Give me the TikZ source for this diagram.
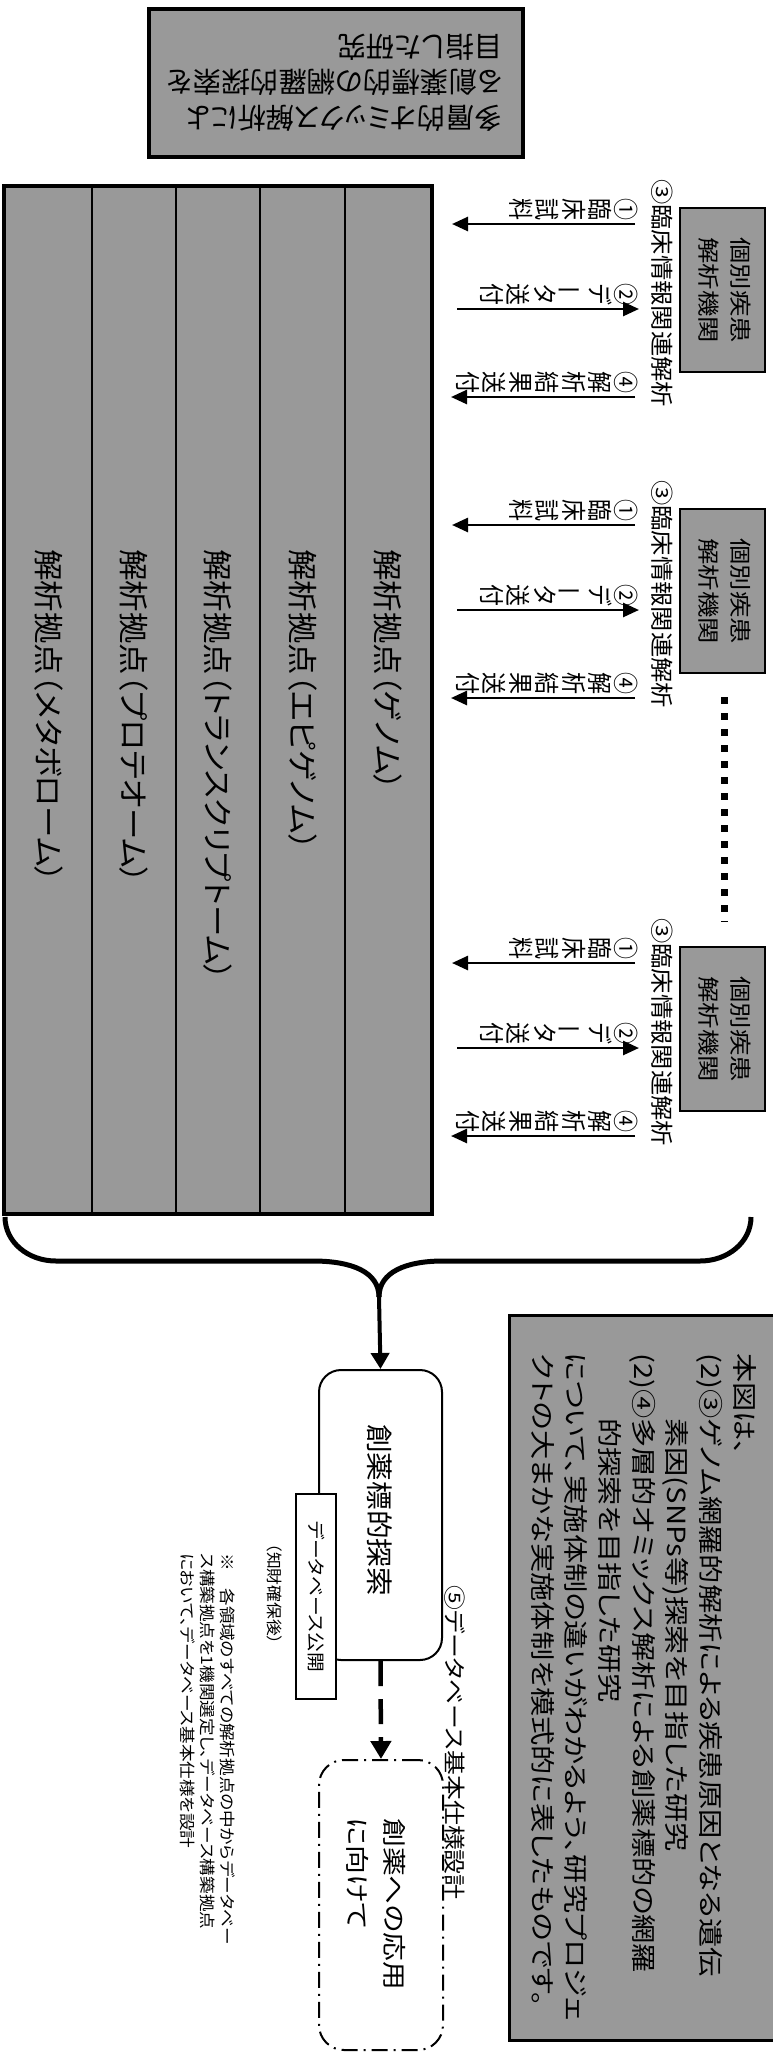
\documentclass[tikz,border=0pt]{standalone}
\usepackage{fontspec}
\usepackage{graphicx}
\setmainfont{Noto Sans CJK JP}[RawFeature={+palt}]
\usetikzlibrary{arrows.meta}
\makeatletter
\newcommand\tate[1]{\vbox{\offinterlineskip\tate@i#1\relax}}
\def\tate@i#1{\ifx\relax#1\else\hbox to 1em{\vrule height 1em depth .2em width 0pt\hss\scalebox{1}[1.15]{#1}\hss}\expandafter\tate@i\fi}
\makeatother
\newcommand\vbar{\rotatebox[origin=c]{90}{ー}}
\newcommand\setfs[2]{\fontsize{#1}{#2}\selectfont}
\newcommand\sx[2]{\scalebox{#1}[1]{#2}}
\begin{document}
\begin{tikzpicture}[x=1pt,y=-1pt,
  gfill/.style={fill=black!40},
  rot/.style={rotate=-90,inner sep=0pt},
  colbox/.style={draw,line width=2.5pt,gfill,inner sep=0pt,minimum height=1026pt},
  kbox/.style={draw,line width=2pt,gfill,inner sep=0pt,minimum width=85pt,minimum height=164pt},
  arr/.style={line width=2.6pt,-{Triangle[length=16pt,width=14pt]}},
  thick arr/.style={line width=4pt,-{Triangle[length=16pt,width=18pt]}}]
\useasboundingbox (0,0) rectangle (772,2057);
\fill[white] (0,0) rectangle (772,2057);

% goal box (upside-down text)
\node[draw,line width=4pt,gfill,minimum width=374pt,minimum height=148pt,inner sep=0pt] (goal) at (336,83) {};
\node[rotate=180,inner sep=0pt,font=\setfs{28.5}{35.5}] (goaltext) at (335,79) {\begin{tabular}{@{}l@{}}多層的オミックス解析によ\\る創薬標的の網羅的探索を\\目指した研究\end{tabular}};

% analysis columns
\node[colbox,minimum width=87pt] (c1) at (48.5,700) {};
\node[colbox,minimum width=84pt] (c2) at (134,700) {};
\node[colbox,minimum width=84pt] (c3) at (218,700) {};
\node[colbox,minimum width=85pt] (c4) at (302.5,700) {};
\node[colbox,minimum width=86pt] (c5) at (388,700) {};
\draw[line width=3.5pt] (c1.north west) rectangle (c5.south east);
\begin{scope}[every node/.style={rot,anchor=west,font=\setfs{30}{30}}]
\node (t1) at (48.5,549) {\sx{1.05}{解析拠点（メタボローム）}};
\node (t2) at (134,549) {\sx{1.05}{解析拠点（プロテオーム）}};
\node (t3) at (218,549) {\sx{1.05}{解析拠点（トランスクリプトーム）}};
\node (t4) at (302.5,549) {\sx{1.05}{解析拠点（エピゲノム）}};
\node (t5) at (388,549) {\sx{1.05}{解析拠点（ゲノム）}};
\end{scope}

% institution groups
\foreach \T/\i in {179/1,480/2,918/3}{
  \node[rot,anchor=west,font=\setfs{23}{23}] (r\i) at (662,\T) {\sx{1.1}{③臨床情報関連解析}};
  \node[kbox] (k\i) at (722.5,\T+111) {};
  \node[rot,font=\setfs{22}{32}] (kt\i) at (k\i.center) {\sx{1.2}{\begin{tabular}{@{}c@{}}個別疾患\\解析機関\end{tabular}}};
  \coordinate (a1s\i) at (635,\T+45);
  \coordinate (a1e\i) at (452,\T+45);
  \coordinate (a2s\i) at (457,\T+130);
  \coordinate (a2e\i) at (639,\T+130);
  \coordinate (a4s\i) at (635,\T+218);
  \coordinate (a4e\i) at (451,\T+218);
  \draw[arr] (a1s\i) -- (a1e\i);
  \draw[arr] (a2s\i) -- (a2e\i);
  \draw[arr] (a4s\i) -- (a4e\i);
  \node[rot,anchor=north,font=\setfs{22}{22}] (l1\i) at (639,\T+30) {\tate{①臨床試料}};
  \node[rot,anchor=north,font=\setfs{22}{22}] (l2\i) at (639,\T+115) {\tate{②デ\vbar タ送付}};
  \node[rot,anchor=north,font=\setfs{22}{22}] (l4\i) at (639,\T+203) {\tate{④解析結果送付}};
}
\coordinate (d1) at (724,697);
\coordinate (d2) at (724,922);
\draw[line width=7pt,dash pattern=on 7pt off 9pt] (d1) -- (d2);

% brace
\coordinate (bl) at (5,1217);
\coordinate (br) at (751,1217);
\coordinate (bt) at (379,1297);
\draw[line width=5pt] (bl) .. controls (5,1242) and (28,1261) .. (56,1261) -- (313,1261)
  .. controls (352,1261) and (379,1272) .. (bt);
\draw[line width=5pt] (br) .. controls (751,1242) and (728,1261) .. (700,1261) -- (443,1261)
  .. controls (406,1261) and (379,1272) .. (bt);

% drug target box
\node[draw,line width=2pt,rounded corners=22pt,minimum width=123pt,minimum height=290pt,inner sep=0pt,fill=white] (sou) at (380.5,1515) {};
\node[rot,font=\setfs{27}{27}] (soutext) at (380,1510) {\sx{1.06}{創薬標的探索}};
\draw[thick arr] (bt) -- (sou.north);
\node[draw,fill=white,line width=1.8pt,minimum width=40pt,minimum height=205pt,inner sep=0pt] (db) at (316,1596.5) {};
\node[rot,font=\setfs{18}{18}] (dbtext) at (db.center) {\sx{1.1}{データベース公開}};
\node[rot,font=\setfs{16}{16}] (ip) at (275,1594) {\sx{1.05}{（知財確保後）}};
\node[rot,anchor=west,font=\setfs{22}{22}] (s5) at (455,1585) {\sx{1.13}{⑤データベース基本仕様設計}};

% application box
\node[draw,line width=2pt,rounded corners=25pt,dash pattern=on 16pt off 6pt on 2pt off 6pt,minimum width=124pt,minimum height=290pt,inner sep=0pt] (app) at (381,1905) {};
\node[rot,anchor=north west,font=\setfs{24}{37}] (apptext) at (412,1818) {\sx{1.2}{\begin{tabular}{@{}l@{}}創薬への応用\\に向けて\end{tabular}}};
\draw[line width=4.5pt,dash pattern=on 25pt off 13pt,-{Triangle[length=18pt,width=20pt]}] (sou.south) -- (app.north);

% note
\node[rot,anchor=north west,font=\setfs{16}{20}] (note) at (236,1553) {\sx{1.1}{\begin{tabular}{@{}l@{}}※　各領域のすべての解析拠点の中からデータベー\\ス構築拠点を1機関選定し、データベース構築拠点\\において、データベース基本仕様を設計\end{tabular}}};

% explanation box
\node[draw,gfill,line width=2.5pt,minimum width=272pt,minimum height=725pt,anchor=north west,inner sep=0pt] (info) at (508,1314) {};
\node[rot,anchor=north west,font=\setfs{25}{33.7}] (infotext) at (759,1353) {\sx{1.17}{\begin{tabular}{@{}l@{}}本図は、\\(2)③ゲノム網羅的解析による疾患原因となる遺伝\\\phantom{(2)③}素因(SNPs等)探索を目指した研究\\(2)④多層的オミックス解析による創薬標的の網羅\\\phantom{(2)④}的探索を目指した研究\\について、実施体制の違いがわかるよう、研究プロジェ\\クトの大まかな実施体制を模式的に表したものです。\end{tabular}}};
\end{tikzpicture}
\end{document}
